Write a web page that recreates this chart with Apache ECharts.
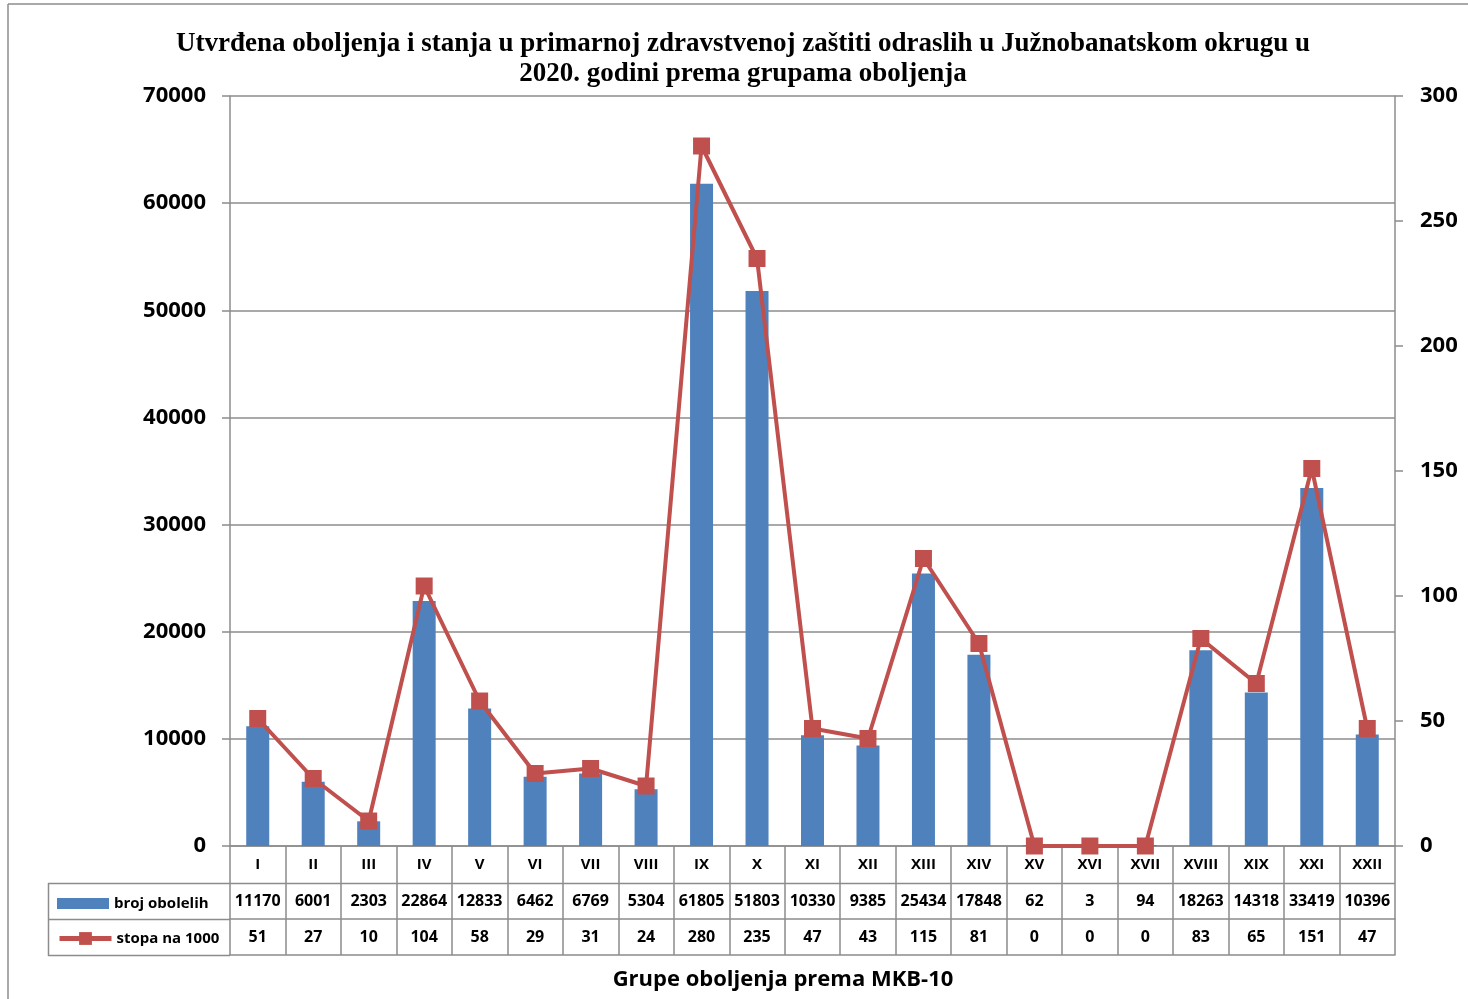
<!DOCTYPE html>
<html>
<head>
<meta charset="utf-8">
<script src="https://cdn.jsdelivr.net/npm/echarts@6/dist/echarts.min.js"></script>
<style>
  html, body { margin: 0; padding: 0; background: #fff; }
  #main { width: 1468px; height: 999px; }
</style>
</head>
<body>
<div id="main"></div>
<script>
// data (table under the plot)
var groups = ['I', 'II', 'III', 'IV', 'V', 'VI', 'VII', 'VIII', 'IX', 'X', 'XI', 'XII', 'XIII', 'XIV', 'XV', 'XVI', 'XVII', 'XVIII', 'XIX', 'XXI', 'XXII'];
var brojObolelih = [11170, 6001, 2303, 22864, 12833, 6462, 6769, 5304, 61805, 51803, 10330, 9385, 25434, 17848, 62, 3, 94, 18263, 14318, 33419, 10396];
var stopaNa1000 = [51, 27, 10, 104, 58, 29, 31, 24, 280, 235, 47, 43, 115, 81, 0, 0, 0, 83, 65, 151, 47];
var leftTicks = { min: 0, max: 70000, interval: 10000 };
var rightTicks = { min: 0, max: 300, interval: 50 };

var gray = '#8c8c8c';
var sans = 'Open Sans';

var chart = echarts.init(document.getElementById('main'));

// extra bottom axes make the rows of the data table
function tableAxis(data, offset, showLine, showLabels) {
    return {
        type: 'category',
        gridIndex: 0,
        position: 'bottom',
        offset: offset,
        data: data,
        axisLine: { show: showLine, onZero: false, lineStyle: { color: gray, width: 1.5 } },
        axisTick: { show: false },
        axisLabel: {
            show: showLabels, interval: 0, margin: 10,
            color: '#000', fontFamily: sans, fontWeight: 'bold', fontSize: 16
        },
        splitLine: { show: false }
    };
}

// table border pieces (not data)
function border(x1, y1, x2, y2) {
    return {
        type: 'line', z: 100,
        shape: { x1: x1, y1: y1, x2: x2, y2: y2 },
        style: { stroke: gray, lineWidth: 1.5 }
    };
}

var option = {
    animation: false,
    backgroundColor: '#fff',
    title: {
        text: 'Utvrđena oboljenja i stanja u primarnoj zdravstvenoj zaštiti odraslih u Južnobanatskom okrugu u\n2020. godini prema grupama oboljenja',
        left: 738,
        top: 24,
        textAlign: 'center',
        textStyle: {
            fontFamily: 'Liberation Serif', fontWeight: 'bold', fontSize: 27,
            lineHeight: 30, color: '#000'
        }
    },
    legend: [
        {
            data: [{ name: 'broj obolelih', icon: 'rect' }],
            left: 52, top: 891,
            itemWidth: 52, itemHeight: 11,
            textStyle: { fontFamily: sans, fontWeight: 'bold', fontSize: 15, color: '#000' }
        },
        {
            data: ['stopa na 1000'],
            left: 52, top: 926,
            itemWidth: 52, itemHeight: 16,
            lineStyle: { width: 5 },
            textStyle: { fontFamily: sans, fontWeight: 'bold', fontSize: 15, color: '#000' }
        }
    ],
    grid: { left: 230, right: 73, top: 96, bottom: 153 },
    xAxis: [
        {
            type: 'category',
            gridIndex: 0,
            position: 'bottom',
            data: groups,
            axisLine: { show: true, onZero: false, lineStyle: { color: gray, width: 1.5 } },
            axisTick: { show: true, length: 109, lineStyle: { color: gray, width: 1.5 } },
            axisLabel: {
                interval: 0, margin: 11,
                color: '#000', fontFamily: sans, fontWeight: 'bold', fontSize: 15
            },
            splitLine: { show: false }
        },
        tableAxis(brojObolelih.map(String), 37, false, true),
        tableAxis(stopaNa1000.map(String), 73, true, true),
        tableAxis(groups, 109, true, false)
    ],
    yAxis: [
        {
            type: 'value',
            min: leftTicks.min, max: leftTicks.max, interval: leftTicks.interval,
            axisLine: { show: true, lineStyle: { color: gray, width: 1.5 } },
            axisTick: { show: true, length: 8, lineStyle: { color: gray, width: 1.5 } },
            axisLabel: {
                margin: 24, color: '#000', fontFamily: sans, fontWeight: 'bold', fontSize: 22,
                formatter: function (v) { return String(v); }
            },
            splitLine: { show: true, lineStyle: { color: gray, width: 1.5 } }
        },
        {
            type: 'value',
            position: 'right',
            min: rightTicks.min, max: rightTicks.max, interval: rightTicks.interval,
            axisLine: { show: true, lineStyle: { color: gray, width: 1.5 } },
            axisTick: { show: true, length: 8, lineStyle: { color: gray, width: 1.5 } },
            axisLabel: { margin: 25, color: '#000', fontFamily: sans, fontWeight: 'bold', fontSize: 22 },
            splitLine: { show: false }
        }
    ],
    series: [
        {
            name: 'broj obolelih',
            type: 'bar',
            xAxisIndex: 0,
            yAxisIndex: 0,
            barWidth: 23,
            itemStyle: { color: '#4f81bd' },
            data: brojObolelih
        },
        {
            name: 'stopa na 1000',
            type: 'line',
            xAxisIndex: 0,
            yAxisIndex: 1,
            symbol: 'rect',
            symbolSize: 17,
            z: 5,
            lineStyle: { color: '#c0504d', width: 4 },
            itemStyle: { color: '#c0504d' },
            data: stopaNa1000
        }
    ],
    graphic: [
        // outer chart frame
        border(8, 4, 1468, 4),
        border(8, 4, 8, 999),
        // legend column and top border of the value rows of the data table
        border(48, 883.5, 1395, 883.5),
        border(48, 919.5, 230, 919.5),
        border(48, 955.5, 230, 955.5),
        border(48.5, 883, 48.5, 956),
        {
            type: 'text', x: 783, y: 980,
            style: {
                text: 'Grupe oboljenja prema MKB-10', textAlign: 'center', textVerticalAlign: 'middle',
                fontFamily: sans, fontWeight: 'bold', fontSize: 22, fill: '#000'
            }
        }
    ]
};

chart.setOption(option);
</script>
</body>
</html>
